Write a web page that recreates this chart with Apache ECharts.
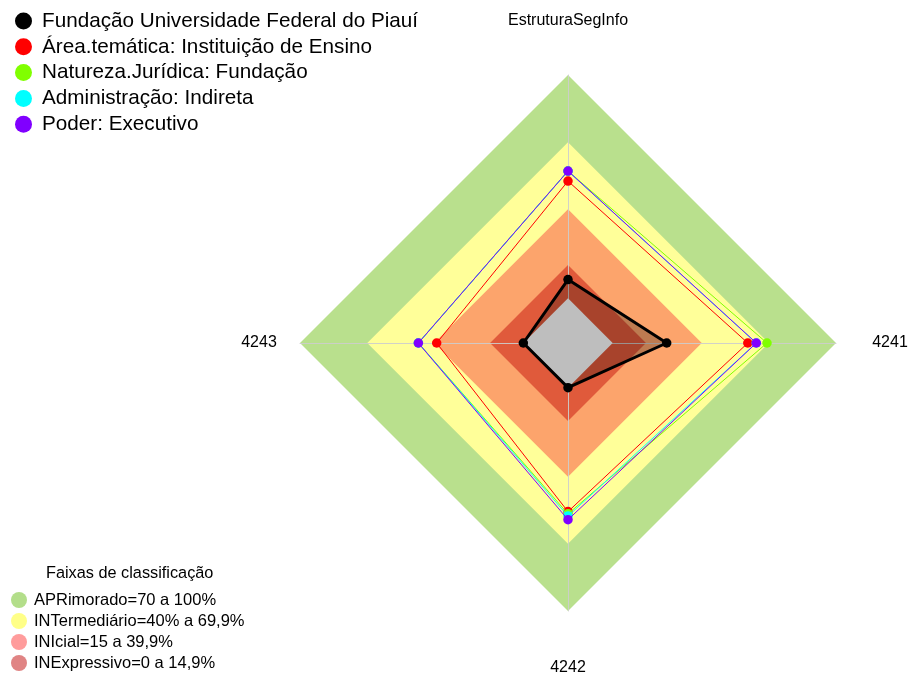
<!DOCTYPE html>
<html>
<head>
<meta charset="utf-8">
<script src="https://cdn.jsdelivr.net/npm/echarts@6/dist/echarts.min.js"></script>
<style>html,body{margin:0;padding:0;background:#fff}#c{width:910px;height:675px}</style>
</head>
<body>
<div id="c"></div>
<script>
// Axes (ECharts radar goes counter-clockwise from the top)
const axisNames = ['EstruturaSegInfo', '4243', '4242', '4241'];
const axisMin = -20;
const axisMax = 100;

// Entities
const entityNames = [
  'Fundação Universidade Federal do Piauí',
  'Área.temática: Instituição de Ensino',
  'Natureza.Jurídica: Fundação',
  'Administração: Indireta',
  'Poder: Executivo'
];
const valuesUFPI = [8.4, 0, 0, 24.2];
const valuesArea = [52.5, 38.8, 55.5, 60.5];
const valuesNatureza = [57, 47, 56.5, 69.1];
const valuesAdmin = [57, 47, 57.5, 64.3];
const valuesPoder = [57, 47, 59.1, 64.3];
const entityValues = [valuesUFPI, valuesArea, valuesNatureza, valuesAdmin, valuesPoder];
const entityColors = ['#000000', '#ff0000', '#80ff00', '#00ffff', '#8000ff'];

// Classification bands
const bandNames = ['APRimorado=70 a 100%', 'INTermediário=40% a 69,9%', 'INIcial=15 a 39,9%', 'INExpressivo=0 a 14,9%'];
const bandTops = [100, 69.9, 39.9, 14.9];
const bandFill = ['#b9e08d', '#ffff99', '#fca46c', '#e05a3b'];
const bandLegendColors = ['#b3de8a', '#ffff88', '#ff9c9c', '#e08484'];
const centerValue = [0, 0, 0, 0];

const cx = 568, cy = 343, R = 268;

const chart = echarts.init(document.getElementById('c'), null, {renderer: 'canvas'});

const series = [];
bandNames.forEach((n, i) => {
  series.push({
    type: 'radar', z: 1, silent: true, symbol: 'none',
    lineStyle: {width: 0, opacity: 0},
    areaStyle: {color: bandFill[i], opacity: 1},
    itemStyle: {color: bandLegendColors[i]},
    data: [{name: n, value: axisNames.map(() => bandTops[i])}]
  });
});
// black translucent fill
series.push({
  type: 'radar', z: 3, silent: true, symbol: 'none',
  lineStyle: {width: 0, opacity: 0},
  areaStyle: {color: 'rgba(0,0,0,0.25)', opacity: 1},
  data: [{name: '_fill', value: valuesUFPI}]
});
// grey center
series.push({
  type: 'radar', z: 4, silent: true, symbol: 'none',
  lineStyle: {width: 0, opacity: 0},
  areaStyle: {color: '#bebebe', opacity: 1},
  data: [{name: '_center', value: centerValue}]
});
entityNames.forEach((n, i) => {
  series.push({
    type: 'radar', z: 5 + (i === 0 ? 5 : i), silent: true,
    symbol: 'circle', symbolSize: 9.5,
    lineStyle: {width: i === 0 ? 3 : 1, color: entityColors[i]},
    itemStyle: {color: entityColors[i]},
    data: [{name: n, value: entityValues[i]}]
  });
});

const labelFont = {fontFamily: 'Liberation Sans', fontSize: 16, fill: '#000'};

chart.setOption({
  animation: false,
  backgroundColor: '#fff',
  textStyle: {fontFamily: 'Liberation Sans'},
  title: {
    text: 'Faixas de classificação', left: 41, top: 561,
    textStyle: {fontSize: 16.3, fontWeight: 'normal', color: '#000', fontFamily: 'Liberation Sans'}
  },
  radar: {
    center: [cx, cy], radius: R, shape: 'polygon', z: 2,
    indicator: axisNames.map(n => ({name: n, min: axisMin, max: axisMax})),
    axisName: {show: false},
    splitLine: {show: false},
    splitArea: {show: false},
    axisTick: {show: false},
    axisLabel: {show: false},
    axisLine: {show: true, lineStyle: {color: 'rgba(205,205,205,0.9)', width: 1}}
  },
  legend: [
    {
      orient: 'vertical', left: 15, top: 10.5, padding: 0, itemWidth: 17, itemHeight: 17, itemGap: 4.8,
      icon: 'circle', selectedMode: false,
      textStyle: {fontSize: 20.7, color: '#000', fontFamily: 'Liberation Sans', padding: [0, 0, 0, 5]},
      data: entityNames.map((n, i) => ({name: n, icon: 'circle', itemStyle: {color: entityColors[i], borderWidth: 0}}))
    },
    {
      orient: 'vertical', left: 11, top: 591.5, padding: 0, itemWidth: 16, itemHeight: 16, itemGap: 4,
      icon: 'circle', selectedMode: false,
      textStyle: {fontSize: 16.5, color: '#000', fontFamily: 'Liberation Sans', padding: [0, 0, 0, 2]},
      data: bandNames.map((n, i) => ({name: n, icon: 'circle', itemStyle: {color: bandLegendColors[i], borderWidth: 0}}))
    }
  ],
  graphic: [
    {type: 'text', x: cx, y: cy - R - 54, style: Object.assign({text: axisNames[0], align: 'center', verticalAlign: 'middle'}, labelFont)},
    {type: 'text', x: cx - R - 41, y: cy, style: Object.assign({text: axisNames[1], align: 'center', verticalAlign: 'middle'}, labelFont)},
    {type: 'text', x: cx, y: cy + R + 57, style: Object.assign({text: axisNames[2], align: 'center', verticalAlign: 'middle'}, labelFont)},
    {type: 'text', x: cx + R + 54, y: cy, style: Object.assign({text: axisNames[3], align: 'center', verticalAlign: 'middle'}, labelFont)}
  ],
  series: series
});
</script>
</body>
</html>
